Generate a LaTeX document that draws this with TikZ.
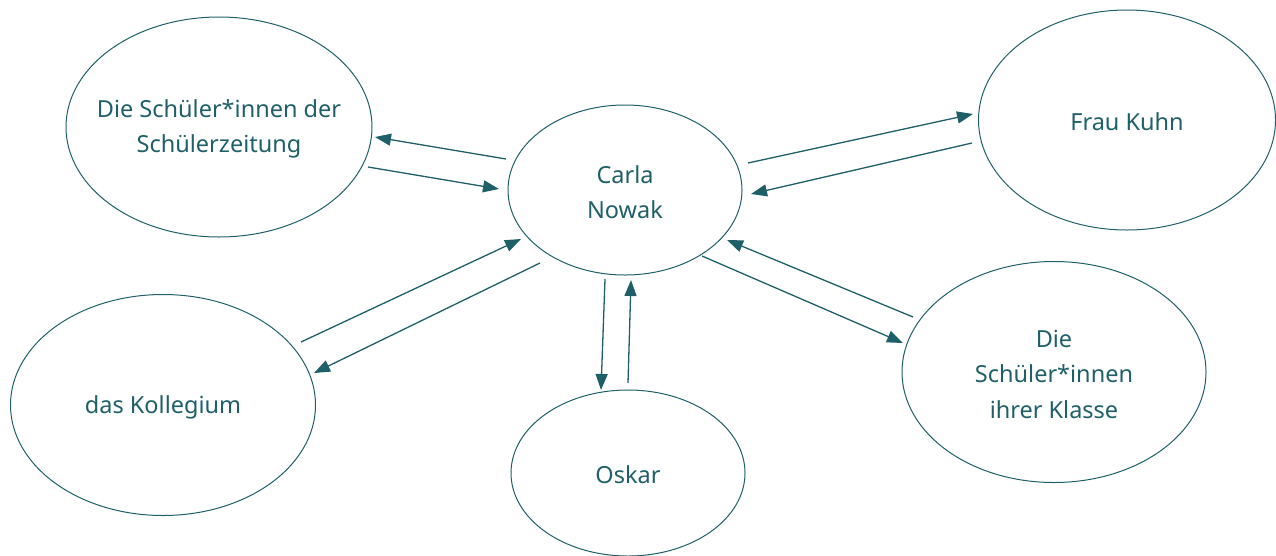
\documentclass[tikz,border=0pt]{standalone}
\usepackage{fontspec}
\setmainfont{Noto Sans}
\usetikzlibrary{shapes.geometric,arrows.meta}
\definecolor{teal}{RGB}{31,96,104}
\begin{document}
\begin{tikzpicture}[x=1pt,y=-1pt,
  bubble/.style={ellipse,draw=teal,line width=1pt,inner sep=0pt},
  label/.style={text=teal,align=center,font=\fontsize{23.5}{35.5}\selectfont,yshift=-2pt},
  link/.style={draw=teal,line width=1.3pt,-{Triangle[length=16pt,width=12pt]}}]
\useasboundingbox (0,0) rectangle (1276,555);
% ellipses
\node[bubble,minimum width=306pt,minimum height=220pt] (tl) at (219,127) {};
\node[bubble,minimum width=234pt,minimum height=170pt] (carla) at (625,190) {};
\node[bubble,minimum width=297pt,minimum height=220pt] (kuhn) at (1127,120) {};
\node[bubble,minimum width=305pt,minimum height=221pt] (koll) at (163,405) {};
\node[bubble,minimum width=234pt,minimum height=166pt] (oskar) at (628,473) {};
\node[bubble,minimum width=304pt,minimum height=221pt] (klasse) at (1054,372) {};
% texts
\node[label] (tlt) at (tl) {Die Schüler*innen der\\Schülerzeitung};
\node[label] (carlat) at (carla) {Carla\\Nowak};
\node[label] (kuhnt) at (kuhn) {Frau Kuhn};
\node[label] (kollt) at (koll) {das Kollegium};
\node[label] (oskart) at (oskar) {Oskar};
\node[label] (klasset) at (klasse) {Die\\Schüler*innen\\ihrer Klasse};
% arrow end points
\coordinate (a1s) at (506,159); \coordinate (a1e) at (375,137);
\coordinate (a2s) at (368,167); \coordinate (a2e) at (499,189);
\coordinate (a3s) at (748,163); \coordinate (a3e) at (973,114);
\coordinate (a4s) at (972,143); \coordinate (a4e) at (751,194);
\coordinate (a5s) at (301,342); \coordinate (a5e) at (521,239);
\coordinate (a6s) at (540,263); \coordinate (a6e) at (314,373);
\coordinate (a7s) at (702,256); \coordinate (a7e) at (903,343);
\coordinate (a8s) at (913,317); \coordinate (a8e) at (727,240);
\coordinate (a9s) at (605,279); \coordinate (a9e) at (601,390);
\coordinate (a10s) at (628,383); \coordinate (a10e) at (631,280);
\draw[link] (a1s) -- (a1e);
\draw[link] (a2s) -- (a2e);
\draw[link] (a3s) -- (a3e);
\draw[link] (a4s) -- (a4e);
\draw[link] (a5s) -- (a5e);
\draw[link] (a6s) -- (a6e);
\draw[link] (a7s) -- (a7e);
\draw[link] (a8s) -- (a8e);
\draw[link] (a9s) -- (a9e);
\draw[link] (a10s) -- (a10e);
\end{tikzpicture}
\end{document}
